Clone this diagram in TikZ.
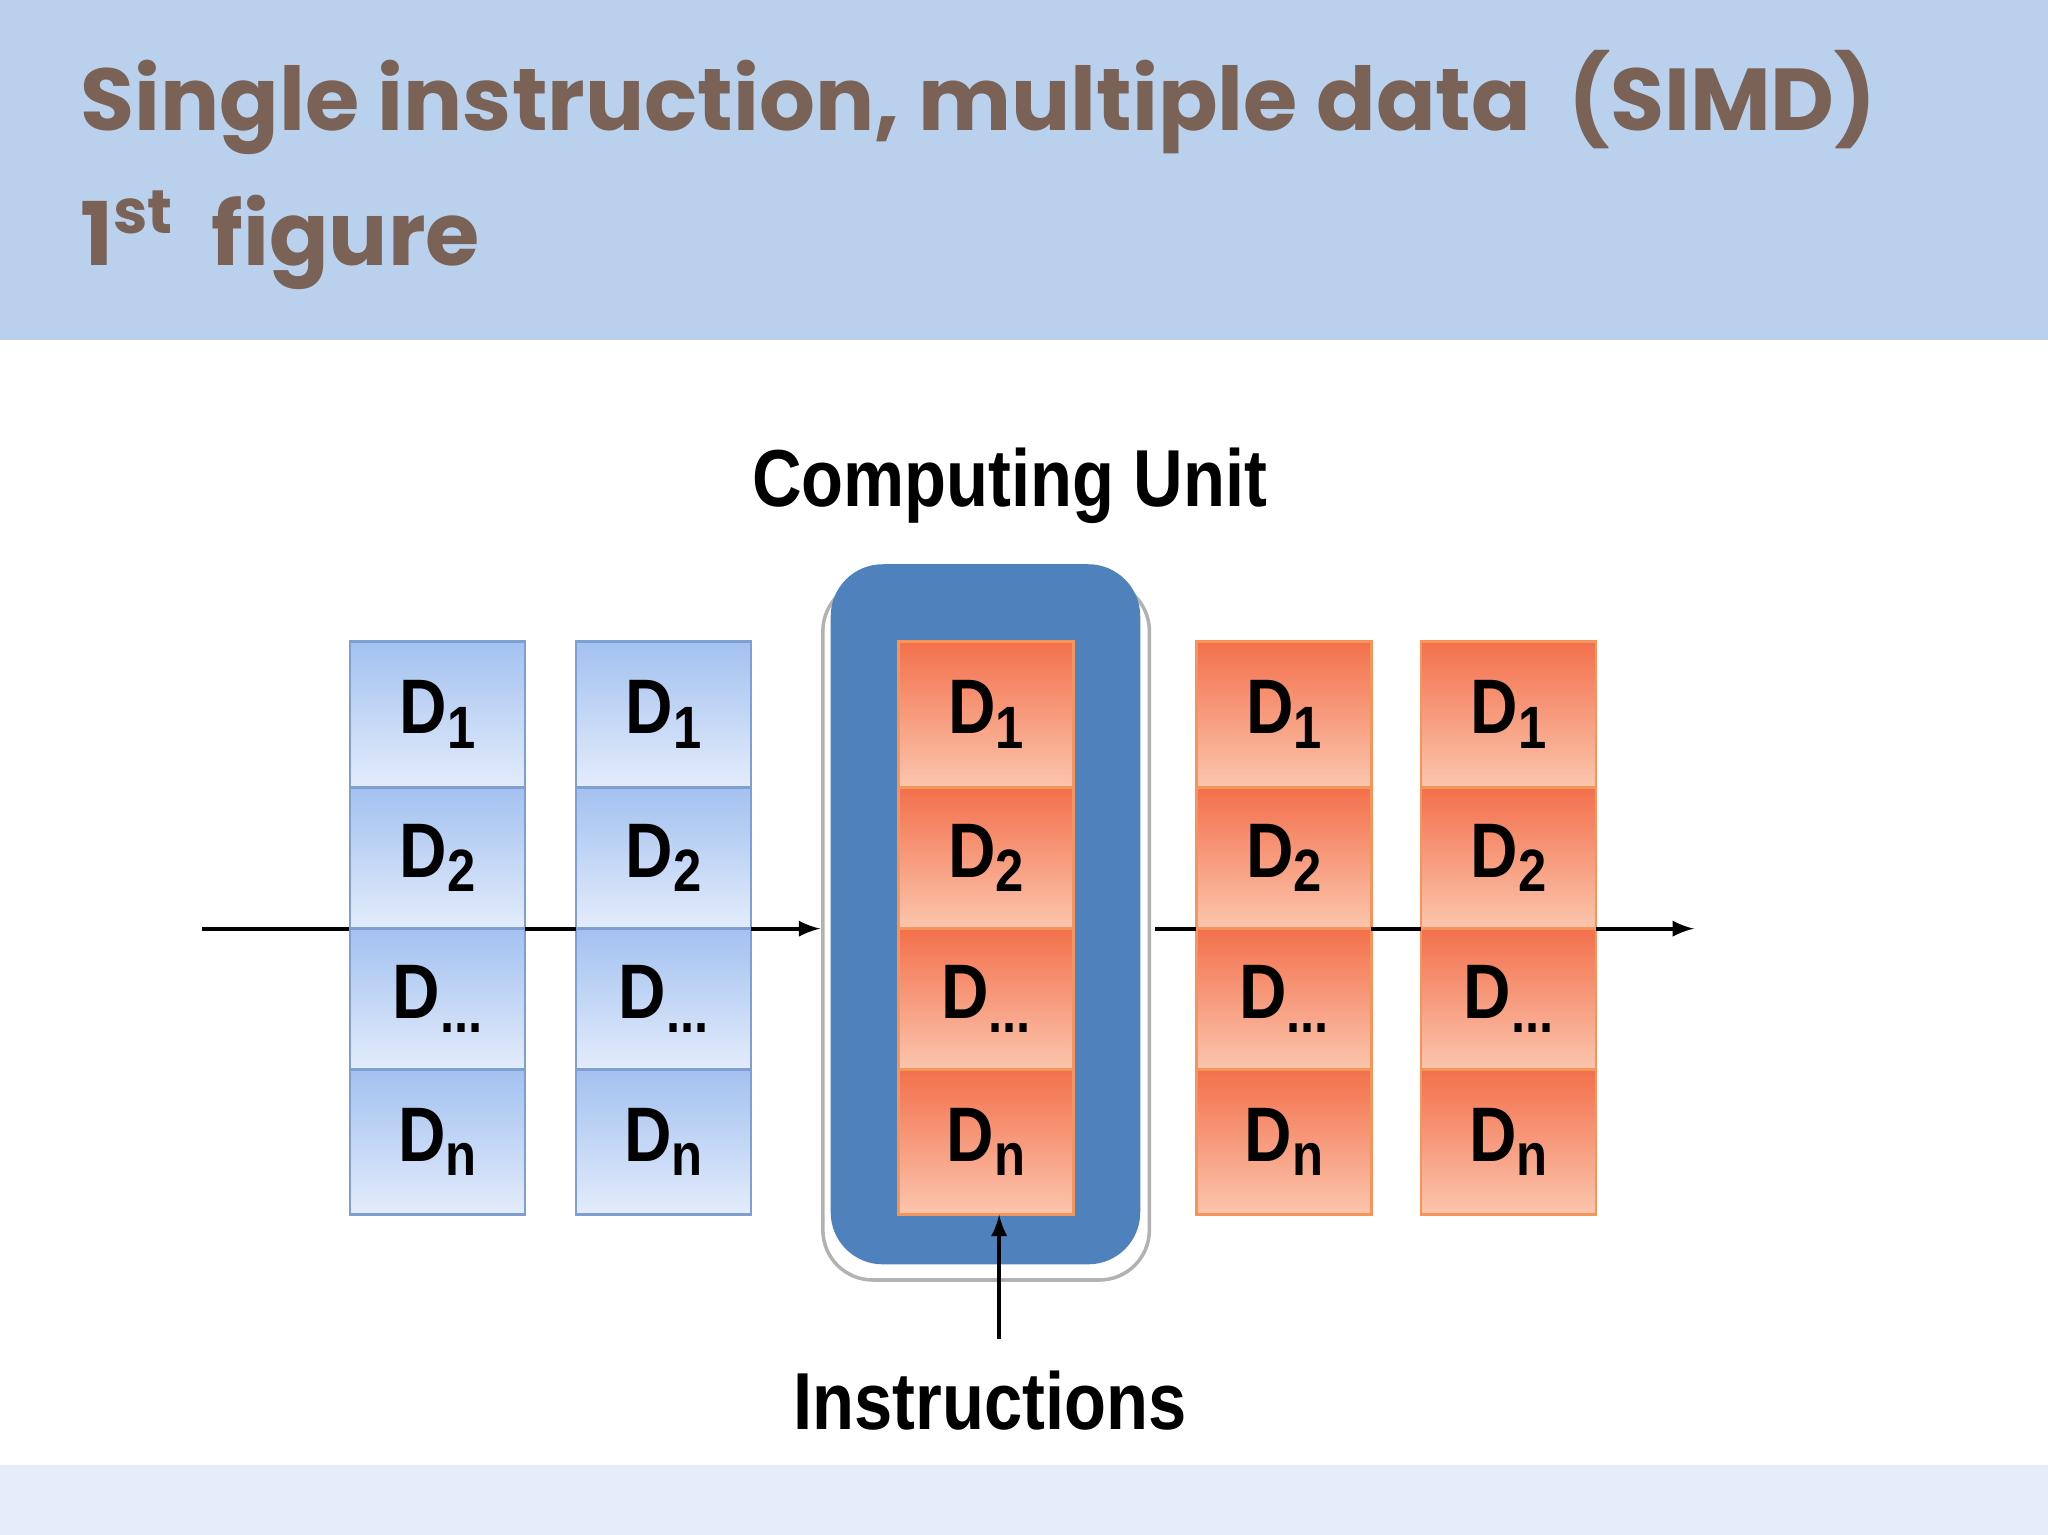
\documentclass[tikz,border=0pt]{standalone}
\usepackage{fontspec}
\setmainfont{Liberation Sans}
\newfontfamily\titlefont{Poppins}
\definecolor{band}{HTML}{B9D1EC}
\definecolor{bandlow}{HTML}{E5EEF8}
\definecolor{titlec}{HTML}{7A6256}
\definecolor{cu}{HTML}{4F81BD}
\definecolor{bltop}{HTML}{A3C1F0}
\definecolor{blbot}{HTML}{E3ECFB}
\definecolor{bledge}{HTML}{7E9FCF}
\definecolor{ortop}{HTML}{F3704C}
\definecolor{orbot}{HTML}{FBC6AE}
\definecolor{oredge}{HTML}{F5955A}
\newcommand{\subl}[1]{\raisebox{-0.35ex}{\fontsize{17}{18}\selectfont\bfseries #1}}
\begin{document}
\begin{tikzpicture}[x=0.01306cm,y=-0.01306cm,
  bcell/.style={draw=bledge,line width=0.8pt,top color=bltop,bottom color=blbot,minimum width=134*0.01306cm,anchor=north west,inner sep=0pt,outer sep=0pt},
  ocell/.style={draw=oredge,line width=0.8pt,top color=ortop,bottom color=orbot,minimum width=134*0.01306cm,anchor=north west,inner sep=0pt,outer sep=0pt},
  lab/.style={font=\bfseries\fontsize{22}{24}\selectfont,xscale=0.85},
  conn/.style={line width=1.1pt,-latex}]
\useasboundingbox (0,0) rectangle (1568,1175);
\fill[white] (0,0) rectangle (1568,1175);
\fill[band] (0,0) rectangle (1568,260);
\fill[bandlow] (0,1122) rectangle (1568,1175);
\node[anchor=base west,text=titlec,font=\titlefont\bfseries\fontsize{25}{30}\selectfont] (t1) at (52,100) {Single instruction, multiple data\ \ (SIMD)};
\node[anchor=base west,text=titlec,font=\titlefont\bfseries\fontsize{25}{30}\selectfont] (t2) at (52,203) {1\textsuperscript{st}\ \ figure};
\node[font=\bfseries\fontsize{23}{26}\selectfont,xscale=0.85] (cut) at (773,372) {Computing Unit};
\draw[gray!60,line width=1pt,rounded corners=0.5cm] (630,445) rectangle (880,980);
\fill[cu,rounded corners=0.52cm] (636,432) rectangle (873,968);
\coordinate (inL) at (155,711);
\coordinate (outR) at (1297,711);
\coordinate (instr) at (765,1025);
\draw[line width=1.1pt] (inL) -- (268,711);
\foreach \x/\s/\n in {268/bcell/a,441/bcell/b,688/ocell/c,916/ocell/d,1088/ocell/e}{
  \node[\s,minimum height=112*0.01306cm] (\n1) at (\x,491) {};
  \node[\s,minimum height=108*0.01306cm] (\n2) at (\x,603) {};
  \node[\s,minimum height=108*0.01306cm] (\n3) at (\x,711) {};
  \node[\s,minimum height=111*0.01306cm] (\n4) at (\x,819) {};
  \node[lab] at (\n1.center) {D\subl{1}};
  \node[lab] at (\n2.center) {D\subl{2}};
  \node[lab] at (\n3.center) {D\subl{...}};
  \node[lab] at (\n4.center) {D\subl{n}};
}
\draw[line width=1.1pt] (a2.east |- inL) -- (b2.west |- inL);
\draw[conn] (b2.east |- inL) -- (628,711);
\draw[line width=1.1pt] (884,711) -- (d2.west |- inL);
\draw[line width=1.1pt] (d2.east |- inL) -- (e2.west |- inL);
\draw[conn] (e2.east |- inL) -- (outR);
\draw[conn] (instr) -- (instr |- c4.south);
\node[font=\bfseries\fontsize{23}{26}\selectfont,xscale=0.85] (ins) at (758,1072) {Instructions};
\end{tikzpicture}
\end{document}
